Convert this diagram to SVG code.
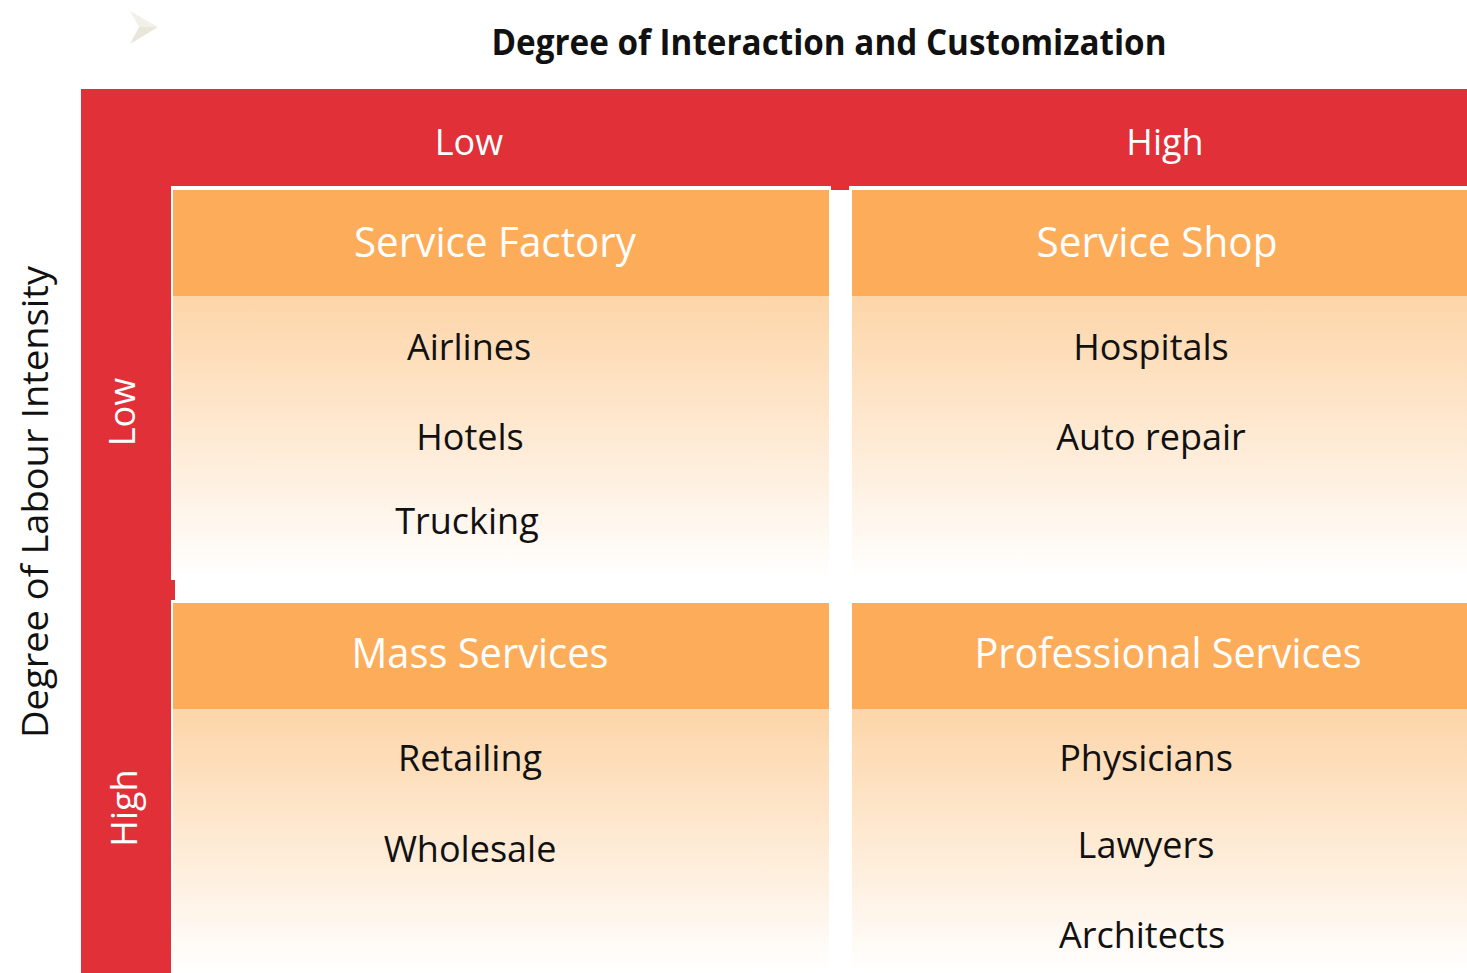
<svg xmlns="http://www.w3.org/2000/svg" width="1467" height="973" viewBox="0 0 1467 973">
<defs>
<linearGradient id="body" x1="0" y1="0" x2="0" y2="1">
<stop offset="0" stop-color="#FDD5A8"/>
<stop offset="1" stop-color="#FFFFFF"/>
</linearGradient>
<style>
.red{fill:#E13037}
.hdr{fill:#FDAD5A}
.body{fill:url(#body)}
.t{font-family:"Open Sans","Noto Sans","Liberation Sans",sans-serif;text-anchor:middle}
.w{fill:#FFFFFF;font-size:36px}
.h{fill:#FFFFFF;font-size:42px}
.i{fill:#111111;font-size:36px}
.title{fill:#111111;font-size:36px;font-weight:bold}
</style>
</defs>
<rect width="1467" height="973" fill="#FFFFFF"/>
<g id="icon">
<polygon points="130,11 158,27 139,27" fill="#F2F0E8"/>
<polygon points="139,27 158,27 130,44" fill="#E9E7DA"/>
</g>
<g id="title">
<text class="t title" x="829" y="55" textLength="675" lengthAdjust="spacingAndGlyphs">Degree of Interaction and Customization</text>
</g>
<g id="frame">
<rect class="red" x="81" y="89" width="1386" height="97"/>
<rect class="red" x="81" y="89" width="90" height="884"/>
<rect class="red" x="831" y="186" width="18" height="4"/>
<rect class="red" x="171" y="580" width="4" height="20"/>
<text class="t w" x="469" y="155">Low</text>
<text class="t w" x="1165" y="155">High</text>
<text class="t w" transform="translate(135,412) rotate(-90)">Low</text>
<text class="t w" transform="translate(137,808) rotate(-90)">High</text>
</g>
<g id="yaxis">
<text class="t i" transform="translate(48,502) rotate(-90)" textLength="472" lengthAdjust="spacingAndGlyphs">Degree of Labour Intensity</text>
</g>
<g id="service-factory">
<rect class="body" x="173" y="296" width="656" height="284"/>
<rect class="hdr" x="173" y="190" width="656" height="106"/>
<text class="t h" x="495" y="257" textLength="282" lengthAdjust="spacingAndGlyphs">Service Factory</text>
<text class="t i" x="469" y="360">Airlines</text>
<text class="t i" x="470" y="450">Hotels</text>
<text class="t i" x="467" y="534">Trucking</text>
</g>
<g id="service-shop">
<rect class="body" x="852" y="296" width="615" height="284"/>
<rect class="hdr" x="852" y="190" width="615" height="106"/>
<text class="t h" x="1157" y="257" textLength="241" lengthAdjust="spacingAndGlyphs">Service Shop</text>
<text class="t i" x="1151" y="360">Hospitals</text>
<text class="t i" x="1151" y="450">Auto repair</text>
</g>
<g id="mass-services">
<rect class="body" x="173" y="709" width="656" height="264"/>
<rect class="hdr" x="173" y="603" width="656" height="106"/>
<text class="t h" x="480" y="668" textLength="257" lengthAdjust="spacingAndGlyphs">Mass Services</text>
<text class="t i" x="470" y="771">Retailing</text>
<text class="t i" x="470" y="862">Wholesale</text>
</g>
<g id="professional-services">
<rect class="body" x="852" y="709" width="615" height="264"/>
<rect class="hdr" x="852" y="603" width="615" height="106"/>
<text class="t h" x="1168" y="668" textLength="387" lengthAdjust="spacingAndGlyphs">Professional Services</text>
<text class="t i" x="1146" y="771">Physicians</text>
<text class="t i" x="1146" y="858">Lawyers</text>
<text class="t i" x="1142" y="948">Architects</text>
</g>
<g id="connectors"></g>
</svg>
